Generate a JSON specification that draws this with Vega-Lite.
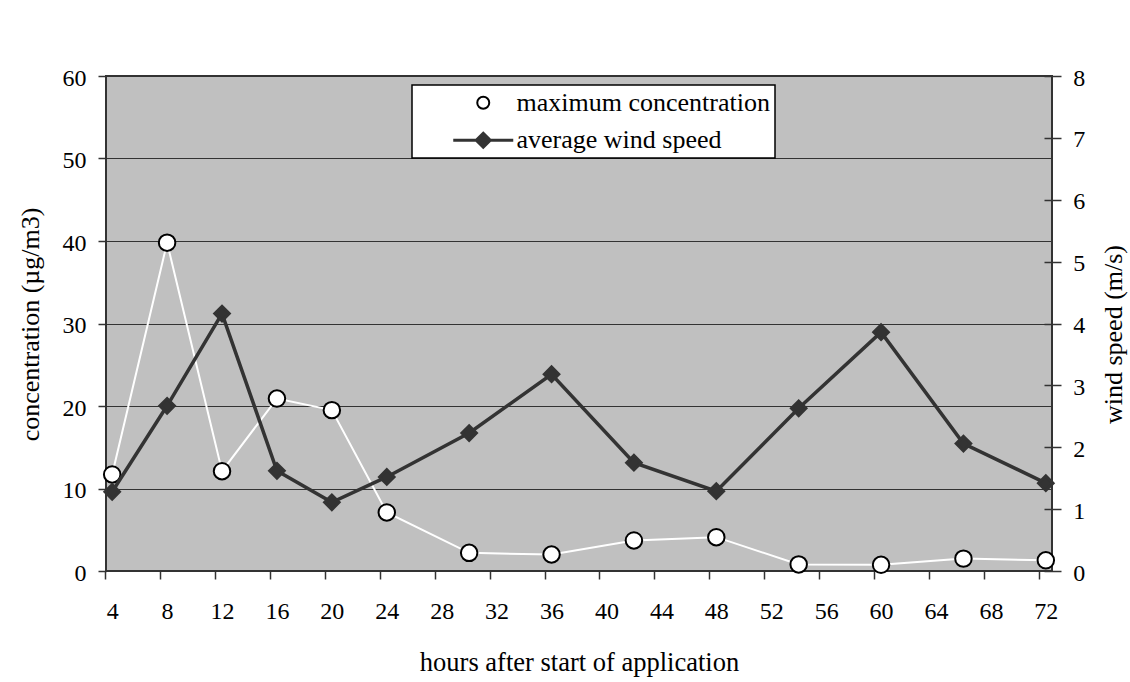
{
  "$schema": "https://vega.github.io/schema/vega-lite/v6.json",
  "width": 946,
  "height": 495,
  "autosize": {"type": "none"},
  "padding": {"left": 106, "top": 76, "right": 78, "bottom": 111},
  "background": "white",
  "data": {"values": [
    {"hours": 4, "conc": 11.7, "wind": 1.28},
    {"hours": 8, "conc": 39.8, "wind": 2.67},
    {"hours": 12, "conc": 12.1, "wind": 4.16},
    {"hours": 16, "conc": 20.9, "wind": 1.62},
    {"hours": 20, "conc": 19.5, "wind": 1.11},
    {"hours": 24, "conc": 7.1, "wind": 1.52},
    {"hours": 30, "conc": 2.2, "wind": 2.23},
    {"hours": 36, "conc": 2.0, "wind": 3.18},
    {"hours": 42, "conc": 3.7, "wind": 1.75},
    {"hours": 48, "conc": 4.1, "wind": 1.29},
    {"hours": 54, "conc": 0.8, "wind": 2.63},
    {"hours": 60, "conc": 0.75, "wind": 3.86},
    {"hours": 66, "conc": 1.5, "wind": 2.06},
    {"hours": 72, "conc": 1.3, "wind": 1.42}
  ]},
  "encoding": {
    "x": {
      "field": "hours",
      "type": "quantitative",
      "scale": {"domain": [3.55, 72.45], "nice": false, "zero": false},
      "axis": {
        "values": [4, 8, 12, 16, 20, 24, 28, 32, 36, 40, 44, 48, 52, 56, 60, 64, 68, 72],
        "title": "hours after start of application",
        "domain": false,
        "grid": false,
        "tickSize": 8,
        "tickOffset": -7,
        "labelOffset": 7,
        "labelFlush": false,
        "labelOverlap": false,
        "labelPadding": 20,
        "labelAngle": 0,
        "labelFontSize": 24,
        "titleFontSize": 26.5,
        "titleX": 473,
        "titleY": 99,
        "titleAlign": "center",
        "titleBaseline": "alphabetic"
      }
    }
  },
  "layer": [
    {
      "encoding": {
        "y": {
          "field": "conc",
          "type": "quantitative",
          "scale": {"domain": [0, 60], "nice": false},
          "axis": {
            "orient": "left",
            "values": [0, 10, 20, 30, 40, 50, 60],
            "title": "concentration (µg/m3)",
            "domain": false,
            "grid": true,
            "gridColor": "#333333",
            "gridWidth": 1,
            "gridOpacity": 1,
            "tickSize": 8,
            "labelPadding": 12,
            "labelOffset": 2,
            "labelFontSize": 24,
            "titleFontSize": 26,
            "titleAngle": 270,
            "titleX": -68,
            "titleY": 248,
            "titleAlign": "center",
            "titleBaseline": "alphabetic"
          }
        }
      },
      "layer": [
        {"mark": {"type": "line", "color": "white", "strokeWidth": 2}},
        {
          "mark": {"type": "point", "filled": true, "size": 272, "opacity": 1},
          "encoding": {
            "fill": {
              "datum": "maximum concentration",
              "type": "nominal",
              "scale": {"domain": ["maximum concentration", "average wind speed"], "range": ["white", "#333333"]},
              "legend": {
                "title": null,
                "orient": "none",
                "legendX": 306,
                "legendY": 9,
                "fillColor": "white",
                "strokeColor": "black",
                "padding": 4.75,
                "rowPadding": 11.5,
                "symbolSize": 400,
                "symbolOffset": 53.5,
                "labelOffset": 20.25,
                "labelFont": "Liberation Serif",
                "labelFontSize": 26,
                "labelColor": "black",
                "labelLimit": 500,
                "symbolType": {"expr": "datum.value === 'average wind speed' ? 'M-3,0H3M0,-0.7L0.7,0L0,0.7L-0.7,0Z' : 'M-6.6,0L-6.6,0M0.6,0A0.6,0.6,0,1,1,-0.6,0A0.6,0.6,0,1,1,0.6,0Z'"}
              }
            },
            "stroke": {
              "datum": "maximum concentration",
              "type": "nominal",
              "scale": {"domain": ["maximum concentration", "average wind speed"], "range": ["black", "#333333"]}
            },
            "strokeWidth": {
              "datum": "maximum concentration",
              "type": "nominal",
              "scale": {"domain": ["maximum concentration", "average wind speed"], "range": [2, 3]}
            }
          }
        }
      ]
    },
    {
      "encoding": {
        "y": {
          "field": "wind",
          "type": "quantitative",
          "scale": {"domain": [0, 8], "nice": false},
          "axis": {
            "orient": "right",
            "values": [0, 1, 2, 3, 4, 5, 6, 7, 8],
            "title": "wind speed (m/s)",
            "domain": false,
            "grid": false,
            "offset": -8,
            "tickSize": 17,
            "labelPadding": 11.7,
            "labelOffset": 2,
            "labelFontSize": 24,
            "titleFontSize": 26,
            "titleAngle": 270,
            "titleX": 77,
            "titleY": 258,
            "titleAlign": "center",
            "titleBaseline": "alphabetic"
          }
        }
      },
      "layer": [
        {"mark": {"type": "line", "color": "#333333", "strokeWidth": 3.5}},
        {
          "mark": {"type": "point", "filled": true, "shape": "diamond", "size": 210, "opacity": 1},
          "encoding": {
            "fill": {"datum": "average wind speed", "type": "nominal"},
            "stroke": {"datum": "average wind speed", "type": "nominal"},
            "strokeWidth": {"datum": "average wind speed", "type": "nominal"}
          }
        }
      ]
    }
  ],
  "resolve": {"scale": {"y": "independent"}},
  "config": {
    "font": "Liberation Serif",
    "view": {"fill": "#c0c0c0", "stroke": "#333333", "strokeWidth": 2},
    "legend": {"strokeWidth": 1.5},
    "axis": {
      "labelFont": "Liberation Serif",
      "labelColor": "black",
      "titleFont": "Liberation Serif",
      "titleColor": "black",
      "titleFontWeight": "normal",
      "tickColor": "#333333",
      "tickWidth": 1.5
    }
  }
}
